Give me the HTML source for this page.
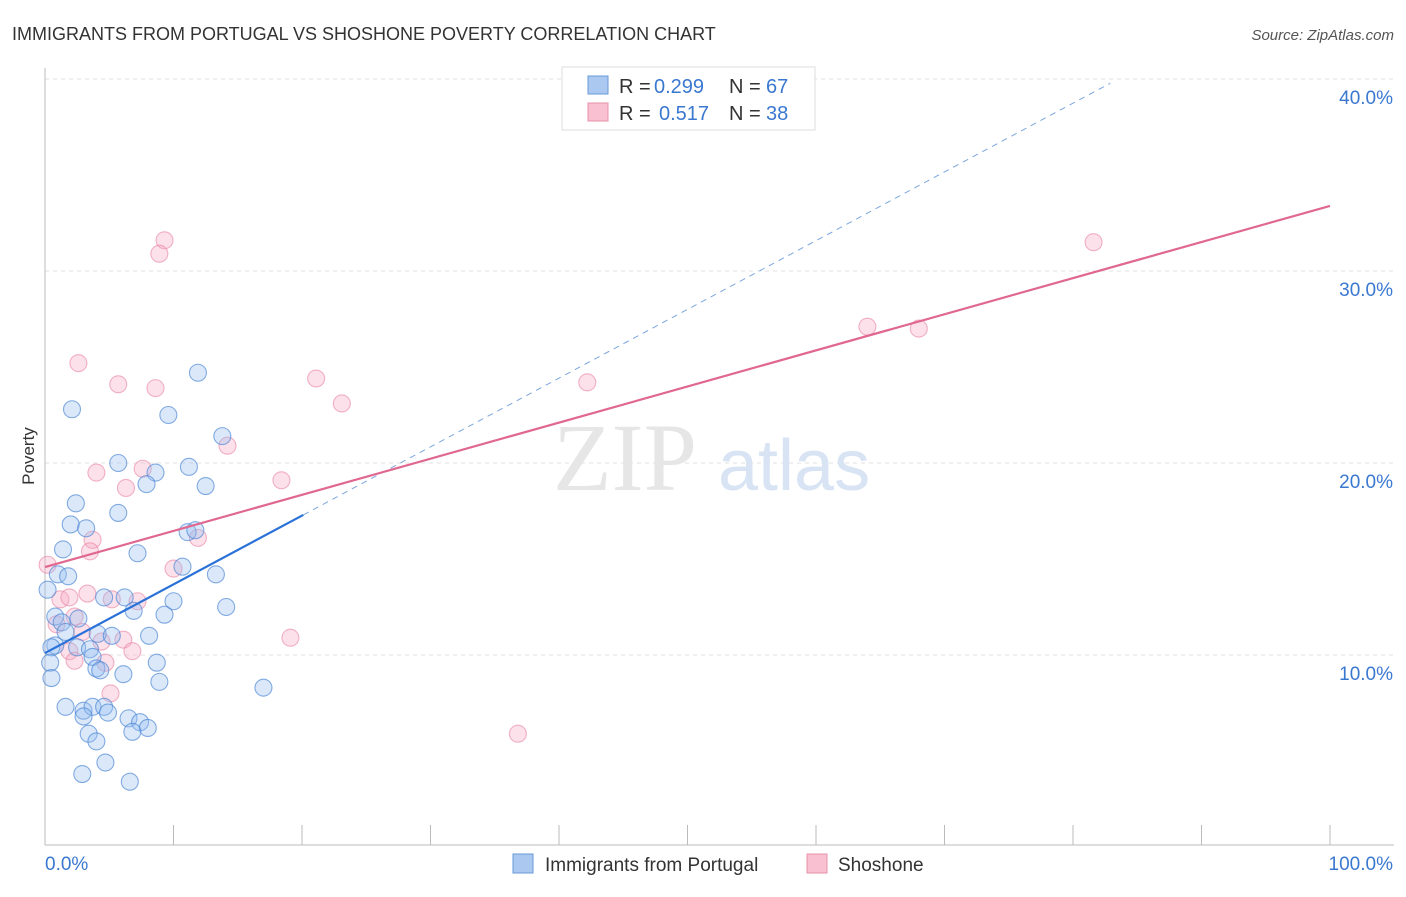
<!DOCTYPE html>
<html><head><meta charset="utf-8"><style>
body{margin:0;background:#fff;font-family:"Liberation Sans",sans-serif}
svg text{font-family:"Liberation Sans",sans-serif}
</style></head><body>
<svg id="c" width="1406" height="892">
<text x="12" y="40" font-size="18" fill="#333">IMMIGRANTS FROM PORTUGAL VS SHOSHONE POVERTY CORRELATION CHART</text>
<text x="1394" y="40" font-size="15" fill="#555" font-style="italic" text-anchor="end">Source: ZipAtlas.com</text>
<g id="grid"></g>
<text x="553" y="490" font-size="96" fill="#e6e6e6" style="font-family:'Liberation Serif',serif">ZIP</text>
<text x="718" y="490" font-size="72" fill="#d8e4f4">atlas</text>
<g id="marks"></g>
<text x="34" y="456" font-size="17" fill="#333" transform="rotate(-90 34 456)" text-anchor="middle">Poverty</text>
<g>
<rect x="562" y="67" width="253" height="63" fill="#fff" stroke="#ddd"/>
<rect x="588" y="76" width="20" height="18" fill="#aac8f0" stroke="#6a9ad8"/>
<rect x="588" y="103" width="20" height="18" fill="#f8c0d0" stroke="#e890a8"/>
<text x="619" y="93" font-size="20" fill="#333">R =</text>
<text x="654" y="93" font-size="20" fill="#3a78d0">0.299</text>
<text x="729" y="93" font-size="20" fill="#333">N =</text>
<text x="766" y="93" font-size="20" fill="#3a78d0">67</text>
<text x="619" y="120" font-size="20" fill="#333">R =</text>
<text x="659" y="120" font-size="20" fill="#3a78d0">0.517</text>
<text x="729" y="120" font-size="20" fill="#333">N =</text>
<text x="766" y="120" font-size="20" fill="#3a78d0">38</text>
</g>
<g>
<rect x="513" y="854" width="20" height="19" fill="#aac8f0" stroke="#6a9ad8"/>
<text x="545" y="871" font-size="19" fill="#333">Immigrants from Portugal</text>
<rect x="807" y="854" width="20" height="19" fill="#f8c0d0" stroke="#e890a8"/>
<text x="838" y="871" font-size="19" fill="#333">Shoshone</text>
</g>
</svg>
<script>
const yTicks=[10,20,30,40];
const yTickLabels=["10.0%","20.0%","30.0%","40.0%"];
const xTicks=[0,10,20,30,40,50,60,70,80,90,100];
const blueX=[11.9,2.1,9.6,13.8,5.7,11.2,8.6,7.9,12.5,2.4,5.7,2.0,3.2,11.1,11.7,1.4,7.2,10.7,1.0,1.8,13.3,4.6,6.2,10.0,14.1,6.9,9.3,0.8,2.6,1.3,1.6,4.1,5.2,8.1,0.8,0.5,2.5,3.5,3.7,8.7,4.0,4.3,0.4,6.1,0.5,8.9,17.0,1.6,3.0,3.7,4.6,4.9,3.0,6.5,7.4,8.0,6.8,3.4,4.0,4.7,2.9,6.6,0.2];
const blueY=[24.7,22.8,22.5,21.4,20.0,19.8,19.5,18.9,18.8,17.9,17.4,16.8,16.6,16.4,16.5,15.5,15.3,14.6,14.2,14.1,14.2,13.0,13.0,12.8,12.5,12.3,12.1,12.0,11.9,11.7,11.2,11.1,11.0,11.0,10.5,10.4,10.4,10.3,9.9,9.6,9.3,9.2,9.6,9.0,8.8,8.6,8.3,7.3,7.1,7.3,7.3,7.0,6.8,6.7,6.5,6.2,6.0,5.9,5.5,4.4,3.8,3.4,13.4];
const pinkX=[9.3,8.9,2.6,5.7,8.6,21.1,23.1,14.2,4.0,7.6,6.3,18.4,42.2,81.6,64.0,68.0,11.9,3.7,3.5,10.0,0.2,1.2,1.9,5.2,7.2,3.3,0.9,2.3,2.9,6.1,4.4,6.8,1.9,2.3,4.7,19.1,5.1,36.8];
const pinkY=[31.6,30.9,25.2,24.1,23.9,24.4,23.1,20.9,19.5,19.7,18.7,19.1,24.2,31.5,27.1,27.0,16.1,16.0,15.4,14.5,14.7,12.9,13.0,12.9,12.8,13.2,11.6,12.0,11.2,10.8,10.7,10.2,10.2,9.7,9.6,10.9,8.0,5.9];
const pinkTrend=[14.58,33.39];
const blueTrend=[10.1,0.358];
const NS="http://www.w3.org/2000/svg";
const X=v=>45+v*12.85, Y=v=>655-(v-10)*19.2;
function mk(t,a,p){const e=document.createElementNS(NS,t);for(const k in a)e.setAttribute(k,a[k]);p.appendChild(e);return e;}
const g=document.getElementById('grid'), m=document.getElementById('marks');
yTicks.forEach((t,i)=>{
 const l=mk('line',{x1:45,x2:1394,y1:Y(t),y2:Y(t),stroke:'#e2e2e2','stroke-dasharray':'4 4'},g);
 
 
 const tx=mk('text',{x:1393,y:Y(t)+25,'font-size':19,fill:'#3a78d0','text-anchor':'end'},g);
 tx.textContent=yTickLabels[i];
 
 
});
const ax=mk('line',{x1:45,x2:45,y1:68,y2:845,stroke:'#bbb'},g);


const bx=mk('line',{x1:45,x2:1394,y1:845,y2:845,stroke:'#bbb'},g);


xTicks.forEach(t=>{const l=mk('line',{x1:X(t),x2:X(t),y1:825,y2:845,stroke:'#bbb'},g);
 
 });
const xl=mk('text',{x:45,y:870,'font-size':19,fill:'#3a78d0'},g);xl.textContent='0.0%';


const xr=mk('text',{x:1393,y:870,'font-size':19,fill:'#3a78d0','text-anchor':'end'},g);xr.textContent='100.0%';


pinkX.forEach((x,i)=>{const c=mk('circle',{cx:X(x),cy:Y(pinkY[i]),r:8.5,fill:'rgba(245,170,195,0.35)',stroke:'rgba(232,130,160,0.6)','stroke-width':1.1},m);
 
 });
blueX.forEach((x,i)=>{const c=mk('circle',{cx:X(x),cy:Y(blueY[i]),r:8.5,fill:'rgba(150,190,240,0.35)',stroke:'rgba(70,130,210,0.65)','stroke-width':1.1},m);
 
 });
const bEnd=20.1, dEnd=82.9;
const d=mk('line',{x1:X(bEnd),y1:Y(blueTrend[0]+blueTrend[1]*bEnd),x2:X(dEnd),y2:Y(blueTrend[0]+blueTrend[1]*dEnd),stroke:'#7aa6de','stroke-width':1,'stroke-dasharray':'6 5'},m);


const p=mk('line',{x1:X(0),y1:Y(pinkTrend[0]),x2:X(100),y2:Y(pinkTrend[1]),stroke:'#e06890','stroke-width':2.2},m);


const b=mk('line',{x1:X(0),y1:Y(blueTrend[0]),x2:X(bEnd),y2:Y(blueTrend[0]+blueTrend[1]*bEnd),stroke:'#2a72d8','stroke-width':2.2},m);


</script>
</body></html>
